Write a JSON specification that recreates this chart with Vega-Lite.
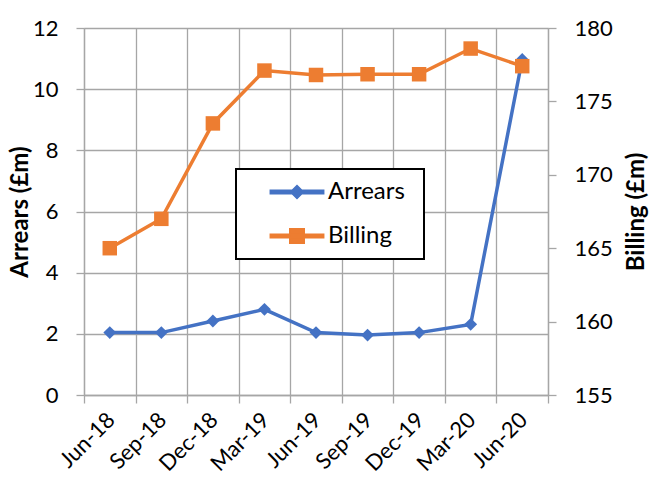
{
  "$schema": "https://vega.github.io/schema/vega-lite/v6.json",
  "width": 464,
  "height": 367,
  "autosize": {"type": "none"},
  "padding": {"left": 84, "top": 28, "right": 114, "bottom": 98},
  "background": "white",
  "config": {
    "view": {"stroke": null},
    "font": "Lato",
    "axis": {
      "labelFont": "Lato",
      "labelFontSize": 22,
      "labelColor": "#000000",
      "titleFont": "Lato",
      "titleFontSize": 24,
      "titleFontWeight": "bold",
      "titleColor": "#000000",
      "domainColor": "#A6A6A6",
      "domainWidth": 1.3,
      "tickColor": "#A6A6A6",
      "tickWidth": 1.3,
      "tickSize": 8,
      "gridColor": "#A6A6A6",
      "gridWidth": 1.3,
      "gridOpacity": 1
    }
  },
  "data": {
    "values": [
      {"month": "Jun-18", "series": "Arrears", "value": 2.04},
      {"month": "Sep-18", "series": "Arrears", "value": 2.04},
      {"month": "Dec-18", "series": "Arrears", "value": 2.42},
      {"month": "Mar-19", "series": "Arrears", "value": 2.8},
      {"month": "Jun-19", "series": "Arrears", "value": 2.04},
      {"month": "Sep-19", "series": "Arrears", "value": 1.96},
      {"month": "Dec-19", "series": "Arrears", "value": 2.04},
      {"month": "Mar-20", "series": "Arrears", "value": 2.31},
      {"month": "Jun-20", "series": "Arrears", "value": 10.97},
      {"month": "Jun-18", "series": "Billing", "value": 165.0},
      {"month": "Sep-18", "series": "Billing", "value": 167.0},
      {"month": "Dec-18", "series": "Billing", "value": 173.5},
      {"month": "Mar-19", "series": "Billing", "value": 177.1},
      {"month": "Jun-19", "series": "Billing", "value": 176.8},
      {"month": "Sep-19", "series": "Billing", "value": 176.85},
      {"month": "Dec-19", "series": "Billing", "value": 176.85},
      {"month": "Mar-20", "series": "Billing", "value": 178.6},
      {"month": "Jun-20", "series": "Billing", "value": 177.4}
    ]
  },
  "encoding": {
    "x": {
      "field": "month",
      "type": "ordinal",
      "sort": ["Jun-18", "Sep-18", "Dec-18", "Mar-19", "Jun-19", "Sep-19", "Dec-19", "Mar-20", "Jun-20"],
      "scale": {"paddingInner": 0, "paddingOuter": 0},
      "axis": {
        "title": null,
        "tickBand": "extent",
        "grid": true,
        "labelAngle": -45,
        "labelAlign": "right",
        "labelBaseline": "middle",
        "labelFont": "Lato",
        "labelFontSize": 22,
        "labelPadding": 13,
        "labelOffset": 1
      }
    },
    "color": {
      "field": "series",
      "type": "nominal",
      "scale": {"domain": ["Arrears", "Billing"], "range": ["#4472C4", "#ED7D31"]},
      "legend": {
        "title": "\u00a0\u00a0\u00a0\u00a0",
        "titleOrient": "right",
        "titleFont": "Lato",
        "titleFontSize": 24,
        "titlePadding": 8,
        "orient": "none",
        "legendX": 152,
        "legendY": 141,
        "padding": 11,
        "strokeColor": "#000000",
        "fillColor": "#FFFFFF",
        "labelFont": "Lato",
        "labelFontSize": 24,
        "labelColor": "#000000",
        "symbolSize": 100,
        "symbolOffset": 38,
        "labelOffset": 19,
        "rowPadding": 20,
        "encode": {
          "legend": {
            "update": {
              "strokeWidth": {"value": 2}
            }
          },
          "symbols": {
            "update": {
              "shape": {"signal": "datum.value === 'Arrears' ? 'M-5.34,-0.35L5.34,-0.35L5.34,0.35L-5.34,0.35Z M0,-1.3L1.3,0L0,1.3L-1.3,0Z' : 'M-5.34,-0.35L5.34,-0.35L5.34,0.35L-5.34,0.35Z M-1.45,-1.45L1.45,-1.45L1.45,1.45L-1.45,1.45Z'"},
              "fill": {"signal": "datum.value === 'Arrears' ? '#4472C4' : '#ED7D31'"},
              "stroke": {"value": "transparent"},
              "opacity": {"value": 1}
            }
          }
        }
      }
    }
  },
  "layer": [
    {
      "transform": [{"filter": "datum.series === 'Arrears'"}],
      "encoding": {
        "y": {
          "field": "value",
          "type": "quantitative",
          "scale": {"domain": [0, 12], "nice": false, "zero": false},
          "axis": {
            "title": "Arrears (£m)",
            "values": [0, 2, 4, 6, 8, 10, 12],
            "grid": true,
            "labelPadding": 18,
            "titlePadding": 0
          }
        }
      },
      "layer": [
        {"mark": {"type": "line", "strokeWidth": 3.5}},
        {"mark": {"type": "point", "shape": "diamond", "filled": true, "size": 165, "opacity": 1}}
      ]
    },
    {
      "transform": [{"filter": "datum.series === 'Billing'"}],
      "encoding": {
        "y": {
          "field": "value",
          "type": "quantitative",
          "scale": {"domain": [155, 180], "nice": false, "zero": false},
          "axis": {
            "title": "Billing (£m)",
            "orient": "right",
            "values": [155, 160, 165, 170, 175, 180],
            "grid": false,
            "labelPadding": 18,
            "titlePadding": 12,
            "titleAngle": 270,
            "titleBaseline": "top"
          }
        }
      },
      "layer": [
        {"mark": {"type": "line", "strokeWidth": 3.5}},
        {"mark": {"type": "point", "shape": "square", "filled": true, "size": 210, "opacity": 1}}
      ]
    }
  ],
  "resolve": {"scale": {"y": "independent"}}
}
